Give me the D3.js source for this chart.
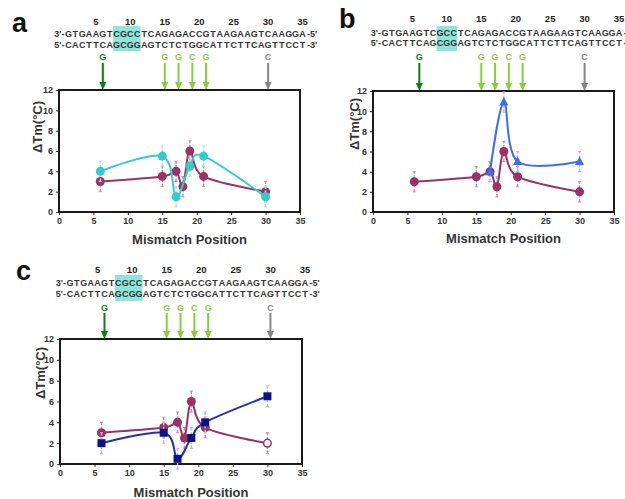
<!DOCTYPE html>
<html>
<head>
<meta charset="UTF-8">
<script src="https://cdn.jsdelivr.net/npm/d3@7"></script>
<style>
  body { margin: 0; background: white; }
  svg text { font-family: "Liberation Sans", Arial, sans-serif; }
</style>
</head>
<body>
<svg id="fig" width="625" height="499"></svg>
<script>
// reference duplex (purple) - same in all three panels
const refPos = [6, 15, 17, 18, 19, 21, 30];
const refTm  = [3, 3.5, 4, 2.5, 6, 3.5, 2];
const refErr = [1, 1, 1, 1, 1, 1, 1];

// panel a - cyan circles
const cyanPos = [6, 15, 17, 19, 21, 30];
const cyanTm  = [4, 5.5, 1.5, 4.5, 5.5, 1.5];
const cyanErr = [1, 1, 1, 1, 1, 1];

// panel b - blue triangles
const bluePos = [17, 19, 21, 30];
const blueTm  = [4, 10.9, 5, 5];
const blueErr = [1, 1, 1, 1];

// panel c - navy squares
const navyPos = [6, 15, 17, 19, 21, 30];
const navyTm  = [2, 3, 0.5, 2.5, 4, 6.5];
const navyErr = [1, 1, 1, 1, 1, 1];

const strand1 = "GTGAAGTCGCCTCAGAGACCGTAAGAAGTCAAGGA";
const strand2 = "CACTTCAGCGGAGTCTCTGGCATTCTTCAGTTCCT";
const seqTicks = [5, 10, 15, 20, 25, 30, 35];
const arrowPos = [6, 15, 17, 19, 21, 30];
const arrowBase = ["G", "G", "G", "C", "G", "C"];
const arrowKind = ["dark", "light", "light", "light", "light", "gray"];

const xTicks = [0, 5, 10, 15, 20, 25, 30, 35];
const yTicks = [0, 2, 4, 6, 8, 10, 12];

const arrowColors = { dark: "#0b7d12", light: "#84cf3a", gray: "#858585" };
const purple = "#993366";

const panels = [
  { label: "a", lx: 12, ly: 32, left: 59, right: 300, top: 90, bottom: 212, off: 2.5,
    hl: [8, 11], numY: 24.5, s1Y: 36.5, s2Y: 47.5, hlTop: 26, hlBot: 51, letY: 60, arrTop: 63,
    titleY: 244, ytX: 38, ytY: 127,
    series: [{ pos: cyanPos, tm: cyanTm, err: cyanErr, color: "#33cccc", bar: "#9ee6e6", shape: "circle" }] },
  { label: "b", lx: 339, ly: 28, left: 373, right: 614, top: 91, bottom: 212, off: 5,
    hl: [9, 11], numY: 21.5, s1Y: 35.5, s2Y: 46, hlTop: 26, hlBot: 51, letY: 59.5, arrTop: 63,
    titleY: 243, ytX: 355, ytY: 124,
    series: [{ pos: bluePos, tm: blueTm, err: blueErr, color: "#3b6cff", bar: "#a9bff5", shape: "triangle" }] },
  { label: "c", lx: 16, ly: 280, left: 60, right: 302, top: 339, bottom: 464, off: 3,
    hl: [8, 11], numY: 272.5, s1Y: 285.5, s2Y: 296.5, hlTop: 275, hlBot: 301, letY: 310.5, arrTop: 313,
    titleY: 497, ytX: 41, ytY: 373, hollowLast: true,
    series: [{ pos: navyPos, tm: navyTm, err: navyErr, color: "#0a1488", line: "#2233a8", bar: "#b5bde0", shape: "square" }] }
];

const svg = d3.select("#fig");
svg.append("rect").attr("width", 625).attr("height", 499).attr("fill", "white");

function drawPanel(p) {
  const g = svg.append("g");
  const x = d3.scaleLinear().domain([0, 35]).range([p.left, p.right]);
  const y = d3.scaleLinear().domain([0, 12]).range([p.bottom, p.top]);
  const sx = i => x(i) + p.off;

  // panel letter
  g.append("text").attr("x", p.lx).attr("y", p.ly)
    .attr("font-size", 27).attr("font-weight", "bold").attr("fill", "#111").text(p.label);

  // highlight box
  g.append("rect")
    .attr("x", sx(p.hl[0] - 0.5)).attr("y", p.hlTop)
    .attr("width", sx(p.hl[1] + 0.5) - sx(p.hl[0] - 0.5)).attr("height", p.hlBot - p.hlTop)
    .attr("fill", "#8ee6da");

  // position numbers
  g.selectAll(".num").data(seqTicks).enter().append("text")
    .attr("x", d => sx(d)).attr("y", p.numY).attr("text-anchor", "middle")
    .attr("font-size", 9.5).attr("font-weight", "bold").attr("fill", "#222").text(d => d);

  // strands
  [[strand1, p.s1Y, "3'-", "-5'"], [strand2, p.s2Y, "5'-", "-3'"]].forEach(([s, yy, pre, post]) => {
    g.append("text").attr("x", sx(0.5) - 0.5).attr("y", yy).attr("text-anchor", "end")
      .attr("font-size", 9).attr("font-weight", "bold").attr("fill", "#333").text(pre);
    g.selectAll(null).data(s.split("")).enter().append("text")
      .attr("x", (d, i) => sx(i + 1)).attr("y", yy).attr("text-anchor", "middle")
      .attr("font-size", 9).attr("font-weight", "bold").attr("fill", "#333").text(d => d);
    g.append("text").attr("x", sx(35.5) + 1).attr("y", yy)
      .attr("font-size", 9).attr("font-weight", "bold").attr("fill", "#333").text(post);
  });

  // mismatch arrows
  arrowPos.forEach((a, i) => {
    const c = arrowColors[arrowKind[i]];
    const ax = sx(a);
    g.append("text").attr("x", ax).attr("y", p.letY).attr("text-anchor", "middle")
      .attr("font-size", 9).attr("font-weight", "bold").attr("fill", c).text(arrowBase[i]);
    g.append("line").attr("x1", ax).attr("x2", ax).attr("y1", p.arrTop).attr("y2", p.top - 6)
      .attr("stroke", c).attr("stroke-width", 2);
    g.append("path")
      .attr("d", `M${ax - 3.5},${p.top - 8}L${ax + 3.5},${p.top - 8}L${ax},${p.top}Z`)
      .attr("fill", c);
  });

  // axes
  const xa = g.append("g").attr("transform", `translate(0,${p.bottom})`)
    .call(d3.axisBottom(x).tickValues(xTicks).tickSize(3).tickPadding(3));
  const ya = g.append("g").attr("transform", `translate(${p.left},0)`)
    .call(d3.axisLeft(y).tickValues(yTicks).tickSize(3).tickPadding(3));
  [xa, ya].forEach(ax => {
    ax.select(".domain").remove();
    ax.selectAll("line").attr("stroke", "#333");
    ax.selectAll("text").attr("font-size", 9).attr("font-weight", "bold").attr("fill", "#333")
      .attr("font-family", "Liberation Sans, Arial, sans-serif");
  });

  // frame
  g.append("rect").attr("x", p.left).attr("y", p.top)
    .attr("width", p.right - p.left).attr("height", p.bottom - p.top)
    .attr("fill", "none").attr("stroke", "#1a1a1a").attr("stroke-width", 2);

  // titles
  g.append("text").attr("x", (p.left + p.right) / 2 + 10).attr("y", p.titleY)
    .attr("text-anchor", "middle").attr("font-size", 13).attr("font-weight", "bold")
    .attr("fill", "#333").text("Mismatch Position");
  g.append("text").attr("transform", `translate(${p.ytX + 4},${p.ytY}) rotate(-90)`)
    .attr("text-anchor", "middle").attr("font-size", 13).attr("font-weight", "bold")
    .attr("fill", "#333").text("ΔTm(°C)");

  const line = d3.line().curve(d3.curveCatmullRom.alpha(0));

  const all = [{ pos: refPos, tm: refTm, err: refErr, color: purple, bar: "#d08aa8", shape: "circle", ref: true }]
    .concat(p.series);

  all.forEach(s => {
    const pts = s.pos.map((d, i) => [x(d), y(s.tm[i])]);
    // error bars
    s.pos.forEach((d, i) => {
      const xx = x(d);
      const y0 = y(s.tm[i] - s.err[i]), y1 = y(s.tm[i] + s.err[i]);
      g.append("line").attr("x1", xx).attr("x2", xx).attr("y1", y0).attr("y2", y1)
        .attr("stroke", s.bar).attr("stroke-width", 1.5).attr("stroke-dasharray", "3,1.5");
      [y0, y1].forEach(yy => g.append("line").attr("x1", xx - 1.5).attr("x2", xx + 1.5)
        .attr("y1", yy).attr("y2", yy).attr("stroke", s.bar).attr("stroke-width", 1));
    });
    g.append("path").attr("d", line(pts)).attr("fill", "none")
      .attr("stroke", s.line || s.color).attr("stroke-width", 2);
    pts.forEach(([px, py], i) => {
      const hollow = s.ref && p.hollowLast && i === pts.length - 1;
      if (s.shape === "circle") {
        g.append("circle").attr("cx", px).attr("cy", py).attr("r", hollow ? 3.8 : 4.5)
          .attr("fill", hollow ? "white" : s.color)
          .attr("stroke", s.color).attr("stroke-width", hollow ? 1.5 : 0);
      } else if (s.shape === "square") {
        g.append("rect").attr("x", px - 4).attr("y", py - 4).attr("width", 8).attr("height", 8)
          .attr("fill", s.color);
      } else {
        g.append("path").attr("d", `M${px},${py - 5}L${px + 4.5},${py + 3.5}L${px - 4.5},${py + 3.5}Z`)
          .attr("fill", s.color);
      }
    });
  });
}

panels.forEach(drawPanel);
</script>
</body>
</html>
